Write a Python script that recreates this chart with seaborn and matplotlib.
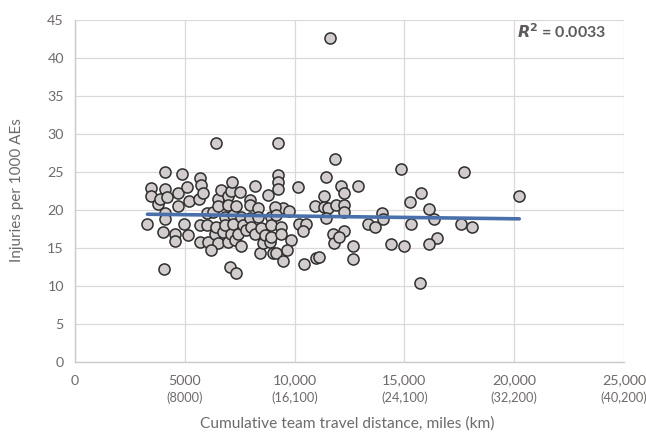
import matplotlib
matplotlib.use("Agg")
import matplotlib.pyplot as plt
import matplotlib.transforms as mtransforms
import seaborn as sns
import pandas as pd
import numpy as np

# ---- data (miles, injuries per 1000 AEs) ----
miles = [
    3450, 3450, 3300, 3790, 3860, 4010, 4060, 4090, 4090, 4120, 4120, 4170, 4550, 4550,
    4700, 4700, 4880, 4970, 5080, 5150, 5190, 5640, 5680, 5760,
    5680, 5680, 5990, 5990, 6060, 6290, 6360, 6440, 6440, 6520, 6520, 6520, 6670, 6740,
    6820, 6820, 6970, 6970, 6970, 7040, 7120, 7120, 7170, 7200, 7200, 7270, 7350, 7350,
    7420, 7500, 7580, 7580, 7650, 7800, 7950, 7950, 7950, 8030, 8180, 8180, 8330, 8330,
    8410, 8490, 8560, 8640, 8790, 8860, 8940, 8940, 8940, 9010, 6210, 5850,
    9240, 11860, 9240, 11410, 9240, 9240, 10150, 11330, 10910, 11360, 11510, 11890, 11410,
    9470, 9740, 9090, 9170, 10190, 10530, 10380, 9390, 9390, 11740, 11790, 9850, 9670,
    9170, 9470, 10420, 10990, 11100,
    12880, 12120, 12230, 15750, 15260, 12270, 16130, 12270, 13980, 16360, 14040, 13330,
    13640, 15300, 17580, 18070, 12270, 12040, 16470, 16100, 12680, 14390, 15000, 12680,
    15710, 14850, 17730, 20230, 11590,
]
injuries = [
    22.9, 21.9, 18.1, 20.8, 21.4, 17.1, 12.2, 19.6, 18.8, 25.0, 22.8, 21.7, 16.8, 15.9,
    22.3, 20.5, 24.7, 18.2, 23.0, 16.7, 21.2, 21.4, 24.2, 23.3,
    18.0, 15.8, 19.6, 18.0, 15.8, 19.8, 16.8, 28.8, 17.8, 21.5, 20.5, 15.6, 22.6, 17.1,
    19.1, 18.0, 21.8, 20.7, 15.8, 12.5, 22.5, 16.9, 23.7, 19.3, 18.2, 16.1, 20.5, 11.7,
    16.9, 22.4, 19.1, 15.2, 18.0, 17.4, 21.3, 20.7, 18.9, 17.8, 23.1, 16.9, 20.2, 19.1,
    14.3, 17.6, 15.6, 16.7, 22.0, 15.8, 19.1, 18.0, 16.5, 14.3, 14.8, 22.3,
    28.8, 26.7, 24.6, 24.3, 23.7, 22.8, 23.0, 21.8, 20.5, 20.4, 20.2, 20.7, 18.9,
    20.2, 19.9, 20.4, 19.3, 18.1, 18.2, 17.2, 17.8, 16.9, 16.9, 15.6, 16.1, 14.7,
    14.3, 13.3, 12.9, 13.7, 13.8,
    23.2, 23.1, 22.3, 22.2, 21.1, 20.6, 20.1, 19.7, 19.6, 18.8, 18.8, 18.2,
    17.8, 18.2, 18.2, 17.7, 17.3, 16.5, 16.3, 15.5, 15.3, 15.5, 15.2, 13.6,
    10.4, 25.4, 25.0, 21.9, 42.6,
]
x_ticks = [0, 5000, 10000, 15000, 20000, 25000]
x_tick_labels = ["0", "5000", "10,000", "15,000", "20,000", "25,000"]
km_labels = ["", "(8000)", "(16,100)", "(24,100)", "(32,200)", "(40,200)"]
y_ticks = [0, 5, 10, 15, 20, 25, 30, 35, 40, 45]
r2_text = "0.0033"

df = pd.DataFrame({"miles": miles, "injuries": injuries})

sns.set_theme(style="white")
plt.rcParams["font.family"] = ["Lato", "DejaVu Sans"]

text_col = "#6f6a6a"
grid_col = "#dcd8d8"

fig = plt.figure(figsize=(6.46, 4.36), dpi=100)
ax = fig.add_axes([75 / 646, 1 - 362 / 436, (624 - 75) / 646, (362 - 20) / 436])

sns.scatterplot(data=df, x="miles", y="injuries", ax=ax, s=64,
                color="#d2cccc", edgecolor="#2e2e2e", linewidth=1.1, zorder=3)
sns.regplot(data=df, x="miles", y="injuries", ax=ax, scatter=False, ci=None,
            truncate=True, line_kws=dict(color="#4a70ac", lw=2.6, zorder=4))

ax.set_xlim(0, 25000)
ax.set_ylim(0, 45)
ax.set_xticks(x_ticks)
ax.set_xticklabels(x_tick_labels)
ax.set_yticks(y_ticks)
ax.grid(True, color=grid_col, lw=0.9, zorder=0)
ax.set_axisbelow(True)
for side in ["top", "right"]:
    ax.spines[side].set_visible(False)
for side in ["left", "bottom"]:
    ax.spines[side].set_color("#cfcaca")
    ax.spines[side].set_linewidth(1.0)

ax.tick_params(axis="both", length=0, colors=text_col, labelsize=10.3)
ax.tick_params(axis="y", pad=8)
ax.tick_params(axis="x", pad=9)

trans = mtransforms.blended_transform_factory(ax.transData, fig.transFigure)
for xv, lab in zip(x_ticks, km_labels):
    if lab:
        ax.text(xv, 1 - 398 / 436, lab, transform=trans, ha="center", va="center",
                fontsize=9.2, color=text_col)

ax.set_xlabel("")
ax.set_ylabel("")
fig.text(347 / 646, 1 - 424 / 436, "Cumulative team travel distance, miles (km)",
         ha="center", va="center", fontsize=11.2, color=text_col)
fig.text(17 / 646, 1 - 190 / 436, "Injuries per 1000 AEs", rotation=90,
         ha="center", va="center", fontsize=11, color=text_col)

ax.text(0.968, 0.965, r"$\mathbfit{R}^\mathbf{2}$" + " = " + r2_text, transform=ax.transAxes,
        ha="right", va="center", fontsize=11.5, fontweight="bold", color="#5f5a5a")

fig.savefig("out.png", dpi=100)
